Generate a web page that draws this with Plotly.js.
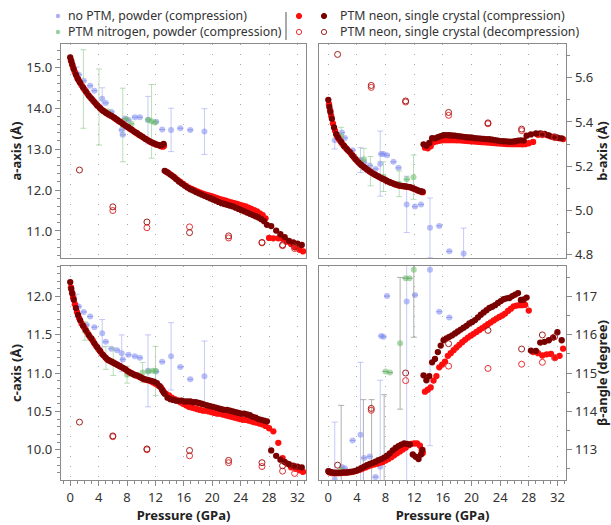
<!DOCTYPE html>
<html><head><meta charset="utf-8">
<script src="https://cdn.plot.ly/plotly-3.0.1.min.js"></script>
<style>html,body{margin:0;padding:0;background:#fff}#chart{width:611px;height:525px}</style>
</head><body><div id="chart"></div>
<script>
// ---------- single crystal, PTM neon, compression ----------
const P_dark = [0.0,0.15,0.3,0.5,0.8,1.1,1.4,1.8,2.2,2.6,3.0,3.4,3.8,4.2,4.6,5.0,5.4,5.8,6.2,6.6,7.0,7.4,7.8,8.2,8.6,9.0,9.4,9.8,10.2,10.6,11.0,11.4,11.8,12.2,12.6,12.95,13.15,13.3,13.7,14.1,14.5,14.9,15.3,15.7,16.1,16.5,16.9,17.3,17.7,18.1,18.5,18.9,19.3,19.7,20.1,20.5,20.9,21.3,21.7,22.1,22.5,22.9,23.3,23.7,24.1,24.5,24.9,25.3,25.7,26.1,26.5,26.9,27.3,27.7,28.3,29.0,29.6,30.2,30.8,31.4,32.0,32.6];
const a_dark = [15.24,15.15,15.06,14.95,14.82,14.71,14.62,14.51,14.41,14.31,14.23,14.15,14.07,14.00,13.94,13.89,13.85,13.81,13.77,13.72,13.67,13.62,13.57,13.53,13.48,13.43,13.39,13.34,13.30,13.25,13.21,13.17,13.14,13.11,13.09,13.10,13.13,12.47,12.43,12.38,12.33,12.27,12.21,12.16,12.11,12.06,12.02,11.99,11.95,11.92,11.89,11.86,11.83,11.80,11.77,11.74,11.71,11.68,11.66,11.64,11.62,11.60,11.57,11.54,11.51,11.48,11.45,11.42,11.39,11.36,11.33,11.29,11.24,11.15,11.12,11.01,10.92,10.85,10.76,10.72,10.69,10.66];
const b_dark = [5.500,5.468,5.445,5.415,5.375,5.345,5.328,5.310,5.292,5.277,5.264,5.248,5.232,5.218,5.206,5.196,5.186,5.177,5.168,5.161,5.154,5.147,5.141,5.134,5.128,5.123,5.118,5.114,5.112,5.110,5.108,5.106,5.101,5.096,5.090,5.087,5.085,5.299,5.293,5.305,5.327,5.326,5.331,5.336,5.340,5.341,5.340,5.339,5.338,5.336,5.335,5.333,5.331,5.330,5.329,5.327,5.326,5.325,5.324,5.323,5.322,5.320,5.318,5.316,5.314,5.313,5.312,5.311,5.311,5.313,5.316,5.317,5.316,5.338,5.344,5.348,5.349,5.346,5.339,5.333,5.329,5.326];
const c_dark = [12.19,12.10,12.04,11.96,11.85,11.76,11.69,11.62,11.56,11.50,11.45,11.39,11.34,11.29,11.24,11.20,11.17,11.15,11.13,11.11,11.09,11.07,11.05,11.02,11.00,10.98,10.97,10.95,10.93,10.92,10.91,10.90,10.89,10.87,10.83,10.78,10.75,10.73,10.68,10.66,10.65,10.64,10.64,10.64,10.63,10.63,10.63,10.62,10.62,10.61,10.60,10.59,10.58,10.57,10.56,10.55,10.54,10.53,10.52,10.52,10.51,10.50,10.49,10.48,10.47,10.47,10.46,10.45,10.43,10.42,10.40,10.39,10.38,10.37,9.99,9.92,9.87,9.84,9.81,9.79,9.78,9.77];
const beta_dark = [112.42,112.41,112.40,112.39,112.38,112.38,112.38,112.38,112.39,112.39,112.40,112.41,112.43,112.46,112.50,112.54,112.58,112.61,112.64,112.67,112.71,112.74,112.78,112.83,112.89,112.97,113.03,113.08,113.12,113.15,113.14,113.12,112.86,112.80,112.74,112.86,112.98,114.94,114.81,114.92,115.28,115.37,115.55,115.72,115.86,115.91,115.95,115.99,116.04,116.09,116.14,116.19,116.24,116.30,116.34,116.39,116.46,116.53,116.59,116.65,116.71,116.74,116.78,116.84,116.89,116.94,116.96,116.97,117.02,117.06,117.10,116.92,116.93,116.98,115.59,115.58,115.80,115.82,115.86,115.93,116.07,115.86];

const P_red = [0.1,0.25,0.4,0.65,0.95,1.25,1.6,2.0,2.4,2.8,3.2,3.6,4.0,4.4,4.8,5.2,5.6,6.0,6.4,6.8,7.2,7.6,8.0,8.4,8.8,9.2,9.6,10.0,10.4,10.8,11.2,11.6,12.0,12.4,12.8,13.05,13.2,13.5,13.9,14.3,14.7,15.1,15.5,15.9,16.3,16.7,17.1,17.5,17.9,18.3,18.7,19.1,19.5,19.9,20.3,20.7,21.1,21.5,21.9,22.3,22.7,23.1,23.5,23.9,24.3,24.7,25.1,25.5,25.9,26.3,26.7,27.1,27.5,28.0,28.6,29.3,29.9,30.5,31.1,31.7,32.3,32.8];
const a_red = [15.17,15.08,15.00,14.88,14.76,14.66,14.56,14.46,14.36,14.27,14.19,14.11,14.04,13.97,13.92,13.87,13.83,13.79,13.74,13.69,13.65,13.60,13.55,13.50,13.46,13.41,13.36,13.32,13.27,13.23,13.19,13.15,13.12,13.10,13.07,13.06,13.08,12.45,12.41,12.36,12.31,12.25,12.20,12.15,12.10,12.06,12.03,12.00,11.97,11.94,11.91,11.89,11.87,11.85,11.83,11.80,11.78,11.76,11.74,11.72,11.70,11.68,11.66,11.64,11.62,11.60,11.57,11.54,11.51,11.48,11.43,11.39,11.31,10.83,10.82,10.82,10.81,10.74,10.68,10.60,10.54,10.50];
const b_red = [5.480,5.452,5.428,5.393,5.360,5.336,5.318,5.300,5.284,5.270,5.256,5.240,5.225,5.212,5.201,5.191,5.181,5.172,5.164,5.157,5.150,5.143,5.137,5.130,5.125,5.120,5.115,5.112,5.110,5.108,5.106,5.103,5.098,5.092,5.087,5.084,5.083,5.284,5.281,5.290,5.308,5.312,5.315,5.317,5.318,5.318,5.318,5.318,5.317,5.317,5.316,5.315,5.314,5.313,5.312,5.311,5.310,5.309,5.308,5.307,5.306,5.305,5.304,5.303,5.302,5.301,5.300,5.300,5.300,5.300,5.300,5.299,5.300,5.304,5.310,5.342,5.345,5.341,5.334,5.329,5.326,5.323];
const c_red = [12.12,12.05,11.99,11.90,11.80,11.72,11.65,11.59,11.53,11.47,11.42,11.36,11.31,11.26,11.22,11.18,11.16,11.14,11.12,11.10,11.08,11.06,11.03,11.01,10.99,10.97,10.96,10.94,10.92,10.91,10.90,10.88,10.86,10.84,10.81,10.77,10.75,10.73,10.71,10.68,10.66,10.64,10.62,10.60,10.58,10.56,10.55,10.54,10.53,10.52,10.51,10.51,10.50,10.49,10.48,10.47,10.47,10.46,10.45,10.44,10.43,10.42,10.41,10.40,10.39,10.39,10.38,10.37,10.36,10.35,10.34,10.33,10.31,10.28,10.24,10.09,9.89,9.82,9.77,9.75,9.73,9.71];
const beta_red = [112.40,112.39,112.38,112.37,112.37,112.37,112.37,112.38,112.38,112.39,112.40,112.41,112.43,112.46,112.49,112.52,112.55,112.58,112.60,112.62,112.64,112.66,112.70,112.74,112.79,112.84,112.89,112.94,112.99,113.04,113.10,113.14,113.15,113.15,113.09,112.97,112.90,114.51,114.56,114.62,114.80,114.92,115.15,115.22,115.30,115.45,115.52,115.60,115.67,115.74,115.81,115.87,115.93,115.98,116.03,116.08,116.13,116.18,116.23,116.28,116.33,116.38,116.43,116.47,116.51,116.56,116.63,116.69,116.75,116.77,116.78,116.78,116.79,116.64,115.55,115.52,115.46,115.49,115.50,115.40,115.45,115.64];

// ---------- single crystal, PTM neon, decompression ----------
const P_dec_dark = [1.3,6.0,10.8,16.8,22.3,27.0,29.9,31.6];
const a_dec_dark = [12.49,11.59,11.22,10.96,10.88,10.72,10.66,10.61];
const b_dec_dark = [5.705,5.565,5.495,5.443,5.396,5.368,5.345,5.333];
const c_dec_dark = [10.36,10.18,10.01,9.99,9.86,9.83,9.79,9.78];
const beta_dec_dark = [112.58,114.07,115.00,115.77,116.12,115.63,116.00,115.95];
const P_dec_red = [6.0,10.8,16.8,22.3,27.0,29.9,31.6];
const a_dec_red = [11.50,11.08,11.10,10.83,10.71,10.64,10.57];
const b_dec_red = [5.556,5.490,5.430,5.392,5.361,5.342,5.330];
const c_dec_red = [10.17,10.00,9.92,9.83,9.78,9.72,9.69];
const beta_dec_red = [114.02,114.80,115.18,115.12,115.23,115.28,115.40];

// ---------- powder, no PTM ----------
const P_pow = [0.9,1.2,1.9,2.3,2.8,3.4,4.5,5.0,5.8,6.6,7.25,7.4,7.7,8.2,9.1,9.8,10.95,12.1,12.95,14.2,15.5,16.9,18.9];
const a_pow = [14.85,14.82,14.67,null,14.55,14.43,14.23,14.13,13.91,null,13.47,13.35,13.75,13.71,13.78,13.78,13.71,13.67,13.48,13.47,13.51,13.47,13.43];
const a_pow_err = [0.16,null,null,null,null,null,0.27,null,null,null,null,null,null,null,null,null,0.58,null,null,0.53,null,null,0.56];
const b_pow = [5.318,null,5.352,5.328,null,5.272,5.228,5.218,5.203,5.188,5.212,5.256,5.256,5.250,5.220,5.193,5.028,5.018,5.027,4.922,4.931,4.816,4.806];
const b_pow_err = [0.04,null,null,null,null,null,0.056,null,null,null,0.147,null,null,null,null,null,0.127,null,null,0.135,null,null,0.115];
const c_pow = [11.88,11.87,11.80,11.63,11.74,11.60,11.52,11.41,11.32,11.30,11.26,11.18,null,11.24,11.22,11.20,11.03,11.02,11.15,11.22,11.08,10.92,10.96];
const c_pow_err = [0.15,null,null,null,null,null,0.18,null,null,null,0.24,null,null,null,null,null,0.47,null,null,0.44,null,null,0.46];
const beta_pow = [112.21,null,112.53,112.50,null,113.23,113.38,112.77,112.81,112.27,112.54,115.97,115.95,117.02,null,null,116.88,117.05,null,117.71,116.61,116.46,null];
const beta_pow_err = [1.5,null,null,null,null,null,1.9,null,null,null,2.27,null,null,null,null,null,4.8,null,null,4.62,null,null,null];

// ---------- powder, PTM nitrogen ----------
const P_n2_a = [1.85,4.05,5.3,7.4,7.9,8.6,11.0,11.45,11.9];
const a_n2 = [14.47,14.03,13.92,13.59,13.73,13.62,13.72,13.68,13.65];
const a_n2_err = [0.96,0.93,null,0.9,null,null,null,0.9,null];
const P_n2_b = [1.8,2.15,4.97,5.9,7.7,9.9,10.96,11.9];
const b_n2 = [5.336,5.292,5.232,5.178,5.153,5.121,5.141,5.151];
const b_n2_err = [0.04,null,0.049,0.066,0.067,0.058,null,0.1];
const P_n2_c = [2.07,5.03,6.06,8.0,10.2,11.0,11.6,12.0];
const c_n2 = [11.55,11.20,11.15,10.98,11.01,11.02,11.03,11.03];
const c_n2_err = [0.12,0.15,0.18,0.11,0.13,null,null,0.32];
const P_n2_beta = [1.8,4.9,6.05,7.8,8.0,8.6,10.03,10.8,11.33,11.94];
const beta_n2 = [112.45,112.5,112.62,112.75,115.04,115.01,115.78,117.49,117.49,117.71];
const beta_n2_err = [1.7,1.8,1.68,1.68,null,null,1.73,null,null,1.77];

// ---------- labels ----------
const legendLabels = ['no PTM, powder (compression)','PTM nitrogen, powder (compression)','PTM neon, single crystal (compression)','PTM neon, single crystal (decompression)'];
const yTitles = ['a-axis (Å)','b-axis (Å)','c-axis (Å)','β-angle (degree)'];
const xTitle = 'Pressure (GPa)';

// ---------- styles ----------
const DARK='#7a0000', RED='#ff0d0d', BLUE='rgba(128,138,240,0.55)', GREEN='rgba(100,185,100,0.55)';
const DEC_DARK='#a32020', DEC_RED='#e83030';
const FONT='Noto Sans, sans-serif';

const panels = [
  {xa:'x', ya:'y', pow:a_pow, powErr:a_pow_err, n2P:P_n2_a, n2:a_n2, n2Err:a_n2_err, dk:a_dark, rd:a_red, ddk:a_dec_dark, drd:a_dec_red, n2col:'rgba(140,200,140,0.6)'},
  {xa:'x2', ya:'y2', pow:b_pow, powErr:b_pow_err, n2P:P_n2_b, n2:b_n2, n2Err:b_n2_err, dk:b_dark, rd:b_red, ddk:b_dec_dark, drd:b_dec_red, n2col:'rgba(140,200,140,0.6)'},
  {xa:'x3', ya:'y3', pow:c_pow, powErr:c_pow_err, n2P:P_n2_c, n2:c_n2, n2Err:c_n2_err, dk:c_dark, rd:c_red, ddk:c_dec_dark, drd:c_dec_red, n2col:'rgba(140,200,140,0.6)'},
  {xa:'x4', ya:'y4', pow:beta_pow, powErr:beta_pow_err, n2P:P_n2_beta, n2:beta_n2, n2Err:beta_n2_err, dk:beta_dark, rd:beta_red, ddk:beta_dec_dark, drd:beta_dec_red, n2col:'rgba(150,150,150,0.75)'}
];

const traces=[];
panels.forEach(p=>{
  traces.push({x:P_pow, y:p.pow, xaxis:p.xa, yaxis:p.ya, mode:'markers', type:'scatter', showlegend:false,
    marker:{color:BLUE, size:6}, error_y:{type:'data', array:p.powErr, visible:true, color:'rgba(150,158,240,0.55)', thickness:1, width:3}});
  traces.push({x:p.n2P, y:p.n2, xaxis:p.xa, yaxis:p.ya, mode:'markers', type:'scatter', showlegend:false,
    marker:{color:GREEN, size:6}, error_y:{type:'data', array:p.n2Err, visible:true, color:p.n2col, thickness:1, width:3}});
  traces.push({x:P_red, y:p.rd, xaxis:p.xa, yaxis:p.ya, mode:'markers', type:'scatter', showlegend:false,
    marker:{color:RED, size:6.3}});
  traces.push({x:P_dark, y:p.dk, xaxis:p.xa, yaxis:p.ya, mode:'markers', type:'scatter', showlegend:false,
    marker:{color:DARK, size:6.3}});
  traces.push({x:P_dec_red, y:p.drd, xaxis:p.xa, yaxis:p.ya, mode:'markers', type:'scatter', showlegend:false,
    marker:{symbol:'circle-open', color:DEC_RED, size:6, line:{width:1}}});
  traces.push({x:P_dec_dark, y:p.ddk, xaxis:p.xa, yaxis:p.ya, mode:'markers', type:'scatter', showlegend:false,
    marker:{symbol:'circle-open', color:DEC_DARK, size:6, line:{width:1}}});
});

// geometry (pixels)
const L=61, R=566, T=44, B=480;
const px=(v)=>(v-L)/(R-L), py=(v)=>(B-v)/(B-T);
const xDomL=[0, px(306)], xDomR=[px(319), 1];
const yDomT=[py(258), 1], yDomB=[0, py(266)];

const LINE='#8a8a8a';
const tickFont={family:FONT, size:13, color:'#333'};
const titleFont={family:FONT, size:13, color:'#222', weight:'bold'};
function xax(domain, anchor, bottom){
  const o={domain, anchor, range:[-1.3,33.2], showline:true, mirror:true, linecolor:LINE, linewidth:1.3,
    showgrid:true, gridcolor:'#a8a8a8', gridwidth:1, griddash:'1px,9px', tick0:0, dtick:4, zeroline:false, fixedrange:true};
  if(bottom){
    Object.assign(o,{ticks:'outside', ticklen:5, tickwidth:1, tickcolor:LINE, tickfont:tickFont, showticklabels:true,
      minor:{dtick:1, tick0:0, ticks:'outside', ticklen:3, tickcolor:LINE, showgrid:false},
      title:{text:xTitle, font:titleFont, standoff:4}});
  } else {
    Object.assign(o,{ticks:'', showticklabels:false});
  }
  return o;
}
function yax(domain, anchor, side, range, dtick, minor, fmt, title, standoff){
  return {domain, anchor, side, range, dtick, tick0:0, showline:true, mirror:true, linecolor:LINE, linewidth:1.3,
    showgrid:false, zeroline:false, ticks:'outside', ticklen:5, tickcolor:LINE, tickfont:tickFont, tickformat:fmt,
    minor:{dtick:minor, ticks:'outside', ticklen:3, tickcolor:LINE, showgrid:false},
    title:{text:title, font:titleFont, standoff:standoff}, fixedrange:true};
}

// legend drawn with shapes + annotations
function dot(cx,cy,r,fill,line){
  return {type:'circle', xref:'paper', yref:'paper', xsizemode:'pixel', ysizemode:'pixel',
    xanchor:px(cx), yanchor:py(cy), x0:-r, x1:r, y0:-r, y1:r, fillcolor:fill, line:{color:line, width:1}};
}
const shapes=[
  dot(58,16,2.2,'rgba(150,158,240,0.8)','rgba(0,0,0,0)'),
  dot(58,32,2.2,'rgba(130,195,130,0.8)','rgba(0,0,0,0)'),
  dot(299,16,2.6,RED,RED),
  dot(299,32,2.6,'rgba(0,0,0,0)',DEC_RED),
  dot(324,16,2.6,DARK,DARK),
  dot(324,32,2.6,'rgba(0,0,0,0)',DEC_DARK),
  {type:'line', xref:'paper', yref:'paper', x0:px(286), x1:px(286), y0:py(12), y1:py(40), line:{color:'#555', width:1}}
];
const legFont={family:FONT, size:12.3, color:'#333'};
const annotations=[
  {text:legendLabels[0], x:px(66), y:py(16)},
  {text:legendLabels[1], x:px(66), y:py(32)},
  {text:legendLabels[2], x:px(338), y:py(16)},
  {text:legendLabels[3], x:px(338), y:py(32)}
].map(a=>Object.assign(a,{xref:'paper', yref:'paper', xanchor:'left', yanchor:'middle', showarrow:false, font:legFont}));

const layout={
  width:611, height:525, margin:{l:L, r:611-R, t:T, b:525-B}, paper_bgcolor:'#fff', plot_bgcolor:'#fff',
  showlegend:false, font:{family:FONT, color:'#333'},
  xaxis:xax(xDomL,'y',false), xaxis2:xax(xDomR,'y2',false), xaxis3:xax(xDomL,'y3',true), xaxis4:xax(xDomR,'y4',true),
  yaxis:yax(yDomT,'x','left',[10.34,15.57],1,0.2,'.1f',yTitles[0],1),
  yaxis2:yax(yDomT,'x2','right',[4.786,5.752],0.2,0.1,'.1f',yTitles[1],7),
  yaxis3:yax(yDomB,'x3','left',[9.604,12.40],0.5,0.1,'.1f',yTitles[2],1),
  yaxis4:yax(yDomB,'x4','right',[112.19,117.81],1,0.5,'d',yTitles[3],7),
  shapes, annotations
};
Plotly.newPlot('chart', traces, layout, {staticPlot:true, displayModeBar:false});
</script></body></html>
